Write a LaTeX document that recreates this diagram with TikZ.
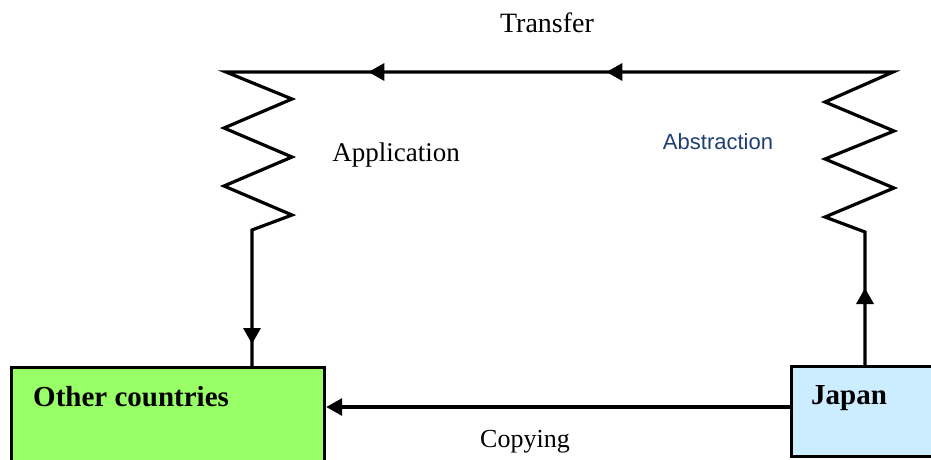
\documentclass[tikz,border=0pt]{standalone}
\usepackage{fontspec}
\setmainfont{Liberation Serif}
\newfontfamily\arialfont{Liberation Sans}
\usetikzlibrary{arrows.meta,decorations.markings}
\definecolor{ocgreen}{HTML}{99FF66}
\definecolor{jpblue}{HTML}{CCECFF}
\definecolor{absblue}{HTML}{1F3F73}
\begin{document}
\begin{tikzpicture}[x=1pt,y=-1pt,
  thick line/.style={line width=3.2pt},
  box/.style={draw=black, line width=3.2pt, anchor=north west, inner sep=0pt},
  boxtext/.style={anchor=west, inner sep=0pt, font=\fontsize{29}{34}\selectfont\bfseries},
  lbl/.style={inner sep=0pt},
  tipshape/.style={arrows={-Triangle[length=16pt,width=17pt]}},
  loopmarks/.style={postaction={decorate},
    decoration={markings,
      mark=at position 77pt with {\arrow{Triangle[length=16pt,width=17pt]}},
      mark=at position -926pt with {\arrow{Triangle[length=16pt,width=17pt]}},
      mark=at position -688pt with {\arrow{Triangle[length=16pt,width=17pt]}},
      mark=at position -22pt with {\arrow{Triangle[length=16pt,width=17pt]}}}}
]
\useasboundingbox (0,0) rectangle (931,459);
\clip (0,0) rectangle (931,459);

% country boxes
\node[box, fill=ocgreen, minimum width=313pt, minimum height=110pt] (oc) at (10,366) {};
\node[box, fill=jpblue, minimum width=150pt, minimum height=90pt] (jp) at (790,365) {};
\node[boxtext] (octext) at (33,397) {Other countries};
\node[boxtext] (jptext) at (811,398) {Japan};

% copying: direct line between the two boxes
\draw[thick line, tipshape] (jp.west |- 0,407) -- (oc.east |- 0,407);
\node[lbl, anchor=base, font=\fontsize{26}{30}\selectfont] (copying) at (525,447) {Copying};

% abstraction, transfer and application loop
\coordinate (rbot) at (865,232);
\coordinate (lbot) at (252,230);
\draw[thick line, loopmarks]
  (jp.north -| rbot) -- (rbot)
  -- (825,217) -- (894,188) -- (825,159) -- (894,131) -- (825,102) -- (893,72)
  -- (226,72)
  -- (292,99) -- (224,128) -- (292,157) -- (224,186) -- (292,215) -- (lbot)
  -- (lbot |- oc.north);

\node[lbl, anchor=base, font=\fontsize{28}{32}\selectfont] (transfer) at (547,32) {Transfer};
\node[lbl, font=\fontsize{27}{31}\selectfont] (application) at (396,155) {Application};
\node[lbl, font=\fontsize{22}{26}\selectfont\arialfont, text=absblue] (abstraction) at (718,142) {Abstraction};
\end{tikzpicture}
\end{document}
